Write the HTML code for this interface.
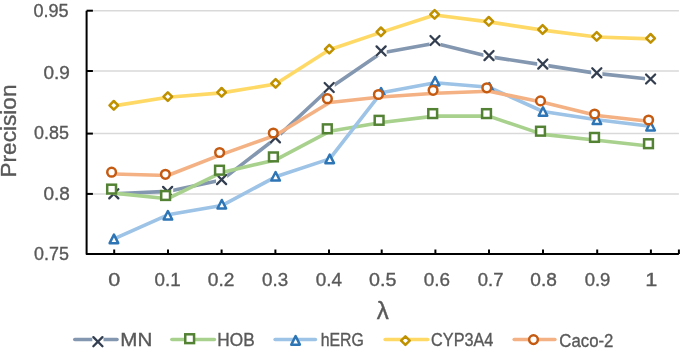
<!DOCTYPE html>
<html><head><meta charset="utf-8"><style>
html,body{margin:0;padding:0;background:#fff;width:685px;height:348px;overflow:hidden}
svg{display:block;will-change:transform}
.t{font-family:"Liberation Sans",sans-serif;font-size:18.3px;fill:#595959;stroke:#595959;stroke-width:0.35px}
.yt{font-family:"Liberation Sans",sans-serif;font-size:22.6px;fill:#595959;stroke:#595959;stroke-width:0.35px}
.xt{font-family:"Liberation Sans",sans-serif;font-size:24px;fill:#595959;stroke:#595959;stroke-width:0.4px}
</style></head><body>
<svg width="685" height="348" viewBox="0 0 685 348"><line x1="86.6" y1="10.7" x2="678.9" y2="10.7" stroke="#D9D9D9" stroke-width="1.5"/><line x1="86.6" y1="71.0" x2="678.9" y2="71.0" stroke="#D9D9D9" stroke-width="1.5"/><line x1="86.6" y1="133.6" x2="678.9" y2="133.6" stroke="#D9D9D9" stroke-width="1.5"/><line x1="86.6" y1="193.9" x2="678.9" y2="193.9" stroke="#D9D9D9" stroke-width="1.5"/><path d="M86.6 10.7V254.0H678.9" stroke="#000" stroke-width="2" fill="none" stroke-linejoin="round"/><line x1="86.6" y1="10.7" x2="92.89999999999999" y2="10.7" stroke="#000" stroke-width="2"/><line x1="86.6" y1="71.0" x2="92.89999999999999" y2="71.0" stroke="#000" stroke-width="2"/><line x1="86.6" y1="133.6" x2="92.89999999999999" y2="133.6" stroke="#000" stroke-width="2"/><line x1="86.6" y1="193.9" x2="92.89999999999999" y2="193.9" stroke="#000" stroke-width="2"/><line x1="86.6" y1="254.0" x2="92.89999999999999" y2="254.0" stroke="#000" stroke-width="2"/><line x1="114.20" y1="254.0" x2="114.20" y2="249.5" stroke="#000" stroke-width="2"/><line x1="168.00" y1="254.0" x2="168.00" y2="249.5" stroke="#000" stroke-width="2"/><line x1="221.60" y1="254.0" x2="221.60" y2="249.5" stroke="#000" stroke-width="2"/><line x1="275.40" y1="254.0" x2="275.40" y2="249.5" stroke="#000" stroke-width="2"/><line x1="329.00" y1="254.0" x2="329.00" y2="249.5" stroke="#000" stroke-width="2"/><line x1="381.70" y1="254.0" x2="381.70" y2="249.5" stroke="#000" stroke-width="2"/><line x1="435.40" y1="254.0" x2="435.40" y2="249.5" stroke="#000" stroke-width="2"/><line x1="489.00" y1="254.0" x2="489.00" y2="249.5" stroke="#000" stroke-width="2"/><line x1="543.00" y1="254.0" x2="543.00" y2="249.5" stroke="#000" stroke-width="2"/><line x1="597.20" y1="254.0" x2="597.20" y2="249.5" stroke="#000" stroke-width="2"/><line x1="650.90" y1="254.0" x2="650.90" y2="249.5" stroke="#000" stroke-width="2"/><line x1="678.90" y1="254.0" x2="678.90" y2="249.5" stroke="#000" stroke-width="2"/><polyline points="113.80,193.80 167.60,191.40 221.60,180.10 275.40,138.60 329.20,88.50 381.10,53.10 435.00,43.20 489.00,56.60 542.80,64.90 596.80,73.40 650.60,79.30" fill="none" stroke="#8497B0" stroke-width="3.6" stroke-linecap="round" stroke-linejoin="round"/><rect x="108.20" y="188.20" width="11.2" height="11.2" fill="#fff"/><path d="M109.25 189.25L118.35 198.35M118.35 189.25L109.25 198.35" stroke="#333F50" stroke-width="2.3" stroke-linecap="round" fill="none"/><rect x="162.00" y="185.80" width="11.2" height="11.2" fill="#fff"/><path d="M163.05 186.85L172.15 195.95M172.15 186.85L163.05 195.95" stroke="#333F50" stroke-width="2.3" stroke-linecap="round" fill="none"/><rect x="216.00" y="174.00" width="11.2" height="11.2" fill="#fff"/><path d="M217.05 175.05L226.15 184.15M226.15 175.05L217.05 184.15" stroke="#333F50" stroke-width="2.3" stroke-linecap="round" fill="none"/><rect x="269.80" y="132.20" width="11.2" height="11.2" fill="#fff"/><path d="M270.85 133.25L279.95 142.35M279.95 133.25L270.85 142.35" stroke="#333F50" stroke-width="2.3" stroke-linecap="round" fill="none"/><rect x="323.60" y="81.90" width="11.2" height="11.2" fill="#fff"/><path d="M324.65 82.95L333.75 92.05M333.75 82.95L324.65 92.05" stroke="#333F50" stroke-width="2.3" stroke-linecap="round" fill="none"/><rect x="375.50" y="45.30" width="11.2" height="11.2" fill="#fff"/><path d="M376.55 46.35L385.65 55.45M385.65 46.35L376.55 55.45" stroke="#333F50" stroke-width="2.3" stroke-linecap="round" fill="none"/><rect x="429.40" y="34.90" width="11.2" height="11.2" fill="#fff"/><path d="M430.45 35.95L439.55 45.05M439.55 35.95L430.45 45.05" stroke="#333F50" stroke-width="2.3" stroke-linecap="round" fill="none"/><rect x="483.40" y="50.00" width="11.2" height="11.2" fill="#fff"/><path d="M484.45 51.05L493.55 60.15M493.55 51.05L484.45 60.15" stroke="#333F50" stroke-width="2.3" stroke-linecap="round" fill="none"/><rect x="537.20" y="58.50" width="11.2" height="11.2" fill="#fff"/><path d="M538.25 59.55L547.35 68.65M547.35 59.55L538.25 68.65" stroke="#333F50" stroke-width="2.3" stroke-linecap="round" fill="none"/><rect x="591.20" y="67.20" width="11.2" height="11.2" fill="#fff"/><path d="M592.25 68.25L601.35 77.35M601.35 68.25L592.25 77.35" stroke="#333F50" stroke-width="2.3" stroke-linecap="round" fill="none"/><rect x="645.00" y="73.40" width="11.2" height="11.2" fill="#fff"/><path d="M646.05 74.45L655.15 83.55M655.15 74.45L646.05 83.55" stroke="#333F50" stroke-width="2.3" stroke-linecap="round" fill="none"/><polyline points="113.80,193.10 167.80,198.70 221.70,172.40 275.60,159.90 329.50,131.30 381.30,122.50 434.90,116.10 488.70,116.10 542.70,134.40 596.70,140.20 650.70,146.20" fill="none" stroke="#A9D18E" stroke-width="3.6" stroke-linecap="round" stroke-linejoin="round"/><rect x="107.20" y="184.70" width="8.8" height="8.8" fill="#fff" stroke="#548235" stroke-width="2.5"/><rect x="161.20" y="191.10" width="8.8" height="8.8" fill="#fff" stroke="#548235" stroke-width="2.5"/><rect x="215.10" y="165.80" width="8.8" height="8.8" fill="#fff" stroke="#548235" stroke-width="2.5"/><rect x="269.00" y="152.50" width="8.8" height="8.8" fill="#fff" stroke="#548235" stroke-width="2.5"/><rect x="322.90" y="124.40" width="8.8" height="8.8" fill="#fff" stroke="#548235" stroke-width="2.5"/><rect x="374.70" y="115.90" width="8.8" height="8.8" fill="#fff" stroke="#548235" stroke-width="2.5"/><rect x="428.30" y="109.20" width="8.8" height="8.8" fill="#fff" stroke="#548235" stroke-width="2.5"/><rect x="482.10" y="109.20" width="8.8" height="8.8" fill="#fff" stroke="#548235" stroke-width="2.5"/><rect x="536.10" y="126.80" width="8.8" height="8.8" fill="#fff" stroke="#548235" stroke-width="2.5"/><rect x="590.10" y="133.00" width="8.8" height="8.8" fill="#fff" stroke="#548235" stroke-width="2.5"/><rect x="644.10" y="139.30" width="8.8" height="8.8" fill="#fff" stroke="#548235" stroke-width="2.5"/><polyline points="113.95,238.90 167.90,214.80 221.80,205.60 275.60,176.80 329.70,158.90 381.10,92.80 435.10,82.70 489.30,87.30 543.00,111.50 596.90,119.80 650.60,126.20" fill="none" stroke="#9DC3E6" stroke-width="3.6" stroke-linecap="round" stroke-linejoin="round"/><path d="M113.95 234.65L118.25 243.15L109.65 243.15Z" fill="#fff" stroke="#2E75B6" stroke-width="2.5" stroke-linejoin="round"/><path d="M167.90 211.05L172.20 219.55L163.60 219.55Z" fill="#fff" stroke="#2E75B6" stroke-width="2.5" stroke-linejoin="round"/><path d="M221.80 199.95L226.10 208.45L217.50 208.45Z" fill="#fff" stroke="#2E75B6" stroke-width="2.5" stroke-linejoin="round"/><path d="M275.60 172.05L279.90 180.55L271.30 180.55Z" fill="#fff" stroke="#2E75B6" stroke-width="2.5" stroke-linejoin="round"/><path d="M329.70 154.65L334.00 163.15L325.40 163.15Z" fill="#fff" stroke="#2E75B6" stroke-width="2.5" stroke-linejoin="round"/><path d="M381.10 88.05L385.40 96.55L376.80 96.55Z" fill="#fff" stroke="#2E75B6" stroke-width="2.5" stroke-linejoin="round"/><path d="M435.10 76.95L439.40 85.45L430.80 85.45Z" fill="#fff" stroke="#2E75B6" stroke-width="2.5" stroke-linejoin="round"/><path d="M489.30 83.05L493.60 91.55L485.00 91.55Z" fill="#fff" stroke="#2E75B6" stroke-width="2.5" stroke-linejoin="round"/><path d="M543.00 107.25L547.30 115.75L538.70 115.75Z" fill="#fff" stroke="#2E75B6" stroke-width="2.5" stroke-linejoin="round"/><path d="M596.90 115.55L601.20 124.05L592.60 124.05Z" fill="#fff" stroke="#2E75B6" stroke-width="2.5" stroke-linejoin="round"/><path d="M650.60 121.95L654.90 130.45L646.30 130.45Z" fill="#fff" stroke="#2E75B6" stroke-width="2.5" stroke-linejoin="round"/><polyline points="113.80,105.90 167.80,97.20 221.60,92.90 275.60,84.00 329.30,49.70 380.90,32.40 434.60,15.00 488.80,21.90 542.60,30.10 596.70,37.00 650.60,38.90" fill="none" stroke="#FFD966" stroke-width="3.6" stroke-linecap="round" stroke-linejoin="round"/><path d="M113.80 101.00L118.10 105.30L113.80 109.60L109.50 105.30Z" fill="#fff" stroke="#BF9000" stroke-width="2.5" stroke-linejoin="round"/><path d="M167.80 92.30L172.10 96.60L167.80 100.90L163.50 96.60Z" fill="#fff" stroke="#BF9000" stroke-width="2.5" stroke-linejoin="round"/><path d="M221.60 88.00L225.90 92.30L221.60 96.60L217.30 92.30Z" fill="#fff" stroke="#BF9000" stroke-width="2.5" stroke-linejoin="round"/><path d="M275.60 79.10L279.90 83.40L275.60 87.70L271.30 83.40Z" fill="#fff" stroke="#BF9000" stroke-width="2.5" stroke-linejoin="round"/><path d="M329.30 44.80L333.60 49.10L329.30 53.40L325.00 49.10Z" fill="#fff" stroke="#BF9000" stroke-width="2.5" stroke-linejoin="round"/><path d="M380.90 27.50L385.20 31.80L380.90 36.10L376.60 31.80Z" fill="#fff" stroke="#BF9000" stroke-width="2.5" stroke-linejoin="round"/><path d="M434.60 10.10L438.90 14.40L434.60 18.70L430.30 14.40Z" fill="#fff" stroke="#BF9000" stroke-width="2.5" stroke-linejoin="round"/><path d="M488.80 17.00L493.10 21.30L488.80 25.60L484.50 21.30Z" fill="#fff" stroke="#BF9000" stroke-width="2.5" stroke-linejoin="round"/><path d="M542.60 25.20L546.90 29.50L542.60 33.80L538.30 29.50Z" fill="#fff" stroke="#BF9000" stroke-width="2.5" stroke-linejoin="round"/><path d="M596.70 32.10L601.00 36.40L596.70 40.70L592.40 36.40Z" fill="#fff" stroke="#BF9000" stroke-width="2.5" stroke-linejoin="round"/><path d="M650.60 34.00L654.90 38.30L650.60 42.60L646.30 38.30Z" fill="#fff" stroke="#BF9000" stroke-width="2.5" stroke-linejoin="round"/><polyline points="113.80,174.00 167.60,175.50 221.80,154.40 275.50,135.20 329.60,102.50 380.60,97.00 435.30,93.30 489.00,91.30 542.70,102.20 596.80,115.50 650.80,121.50" fill="none" stroke="#F4B183" stroke-width="3.6" stroke-linecap="round" stroke-linejoin="round"/><circle cx="111.60" cy="172.20" r="4.35" fill="#fff" stroke="#C55A11" stroke-width="2.5"/><circle cx="165.40" cy="174.30" r="4.35" fill="#fff" stroke="#C55A11" stroke-width="2.5"/><circle cx="219.60" cy="152.50" r="4.35" fill="#fff" stroke="#C55A11" stroke-width="2.5"/><circle cx="273.30" cy="133.00" r="4.35" fill="#fff" stroke="#C55A11" stroke-width="2.5"/><circle cx="327.40" cy="98.70" r="4.35" fill="#fff" stroke="#C55A11" stroke-width="2.5"/><circle cx="378.40" cy="94.50" r="4.35" fill="#fff" stroke="#C55A11" stroke-width="2.5"/><circle cx="433.10" cy="90.30" r="4.35" fill="#fff" stroke="#C55A11" stroke-width="2.5"/><circle cx="486.80" cy="87.80" r="4.35" fill="#fff" stroke="#C55A11" stroke-width="2.5"/><circle cx="540.50" cy="100.90" r="4.35" fill="#fff" stroke="#C55A11" stroke-width="2.5"/><circle cx="594.60" cy="114.00" r="4.35" fill="#fff" stroke="#C55A11" stroke-width="2.5"/><circle cx="648.60" cy="120.00" r="4.35" fill="#fff" stroke="#C55A11" stroke-width="2.5"/><text x="33.51" y="16.66" textLength="35.13" lengthAdjust="spacingAndGlyphs" class="t">0.95</text><text x="43.49" y="78.81" textLength="26.39" lengthAdjust="spacingAndGlyphs" class="t">0.9</text><text x="34.02" y="139.16" textLength="34.82" lengthAdjust="spacingAndGlyphs" class="t">0.85</text><text x="43.55" y="200.10" textLength="26.37" lengthAdjust="spacingAndGlyphs" class="t">0.8</text><text x="34.02" y="259.65" textLength="34.82" lengthAdjust="spacingAndGlyphs" class="t">0.75</text><text x="108.18" y="286.41" textLength="11.99" lengthAdjust="spacingAndGlyphs" class="t">0</text><text x="154.58" y="286.41" textLength="26.09" lengthAdjust="spacingAndGlyphs" class="t">0.1</text><text x="207.86" y="286.09" textLength="26.66" lengthAdjust="spacingAndGlyphs" class="t">0.2</text><text x="262.08" y="286.04" textLength="26.09" lengthAdjust="spacingAndGlyphs" class="t">0.3</text><text x="315.84" y="286.41" textLength="26.30" lengthAdjust="spacingAndGlyphs" class="t">0.4</text><text x="369.08" y="286.41" textLength="27.35" lengthAdjust="spacingAndGlyphs" class="t">0.5</text><text x="423.78" y="286.02" textLength="26.26" lengthAdjust="spacingAndGlyphs" class="t">0.6</text><text x="477.83" y="286.41" textLength="25.67" lengthAdjust="spacingAndGlyphs" class="t">0.7</text><text x="530.25" y="286.09" textLength="26.59" lengthAdjust="spacingAndGlyphs" class="t">0.8</text><text x="584.66" y="286.02" textLength="25.69" lengthAdjust="spacingAndGlyphs" class="t">0.9</text><text x="645.19" y="286.39" textLength="12.08" lengthAdjust="spacingAndGlyphs" class="t">1</text><text transform="translate(16.4,131) rotate(-90)" text-anchor="middle" class="yt">Precision</text><text x="382.8" y="319.1" text-anchor="middle" class="xt">λ</text><line x1="74.8" y1="339.5" x2="117.0" y2="339.5" stroke="#8497B0" stroke-width="3.6" stroke-linecap="round"/><rect x="92.30" y="336.10" width="11.2" height="11.2" fill="#fff"/><path d="M93.35 337.15L102.45 346.25M102.45 337.15L93.35 346.25" stroke="#333F50" stroke-width="2.3" stroke-linecap="round" fill="none"/><text x="120.38" y="345.90" textLength="31.98" lengthAdjust="spacingAndGlyphs" class="t">MN</text><line x1="171.9" y1="339.5" x2="214.39999999999998" y2="339.5" stroke="#A9D18E" stroke-width="3.6" stroke-linecap="round"/><rect x="185.25" y="334.30" width="8.8" height="8.8" fill="#fff" stroke="#548235" stroke-width="2.5"/><text x="217.30" y="345.90" textLength="37.35" lengthAdjust="spacingAndGlyphs" class="t">HOB</text><line x1="275.1" y1="339.5" x2="315.4" y2="339.5" stroke="#9DC3E6" stroke-width="3.6" stroke-linecap="round"/><path d="M295.60 336.15L299.90 344.65L291.30 344.65Z" fill="#fff" stroke="#2E75B6" stroke-width="2.5" stroke-linejoin="round"/><text x="320.69" y="345.90" textLength="43.22" lengthAdjust="spacingAndGlyphs" class="t">hERG</text><line x1="385.1" y1="339.5" x2="427.7" y2="339.5" stroke="#FFD966" stroke-width="3.6" stroke-linecap="round"/><path d="M405.40 336.30L409.70 340.60L405.40 344.90L401.10 340.60Z" fill="#fff" stroke="#BF9000" stroke-width="2.5" stroke-linejoin="round"/><text x="431.10" y="345.90" textLength="62.30" lengthAdjust="spacingAndGlyphs" class="t">CYP3A4</text><line x1="514.1999999999999" y1="339.5" x2="554.9000000000001" y2="339.5" stroke="#F4B183" stroke-width="3.6" stroke-linecap="round"/><circle cx="533.50" cy="339.60" r="4.35" fill="#fff" stroke="#C55A11" stroke-width="2.5"/><text x="559.29" y="346.62" textLength="54.12" lengthAdjust="spacingAndGlyphs" class="t">Caco-2</text></svg>
</body></html>
